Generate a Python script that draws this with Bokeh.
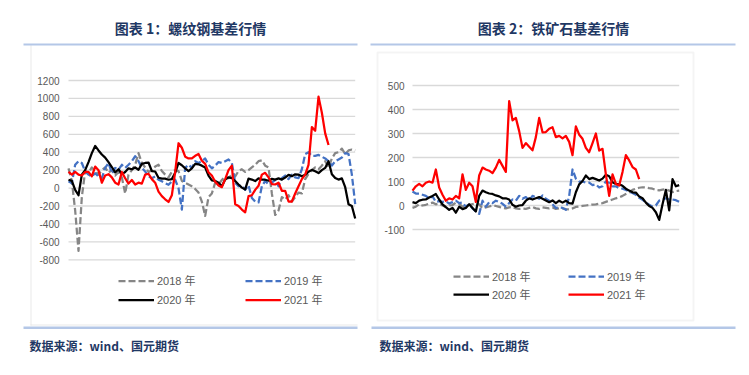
from bokeh.plotting import figure
from bokeh.models import Range1d, Label, BoxAnnotation, Legend, LegendItem, ColumnDataSource
from bokeh.embed import file_html
from bokeh.resources import INLINE
from bokeh.core.properties import value

# ---------------- data ----------------
years = ["2018 年", "2019 年", "2020 年", "2021 年"]

# rebar basis (sampled ~every 4 days through the year)
rb_2018 = [220, 80, -250, -700, -100, 190, 170, 230, 190, 150, 200, 230, 170, 200, 140, 180, 120, -60, 150, 200,
           260, 390, 280, 230, 180, 200, 240, 260, 190, 150, 120, 180, 200, 190, 80, 60, 40, 20, -10, -50,
           -150, -310, -100, -60, 60, 40, 90, 130, 110, 150, 130, 190, 210, 180, 200, 230, 260, 300, 310, 250,
           230, -60, -300, -250, -100, -130, -80, -150, -100, -50, -60, 100, 160, 200, 230, 210, 250, 300, 230, 330,
           390, 400, 440, 380, 420, 430, 420]
rb_2019 = [75, 55, 260, 300, 280, 185, 150, 130, 165, 130, 110, 225, 280, 165, 225, 205, 260, 225, 260, 300,
           355, 300, 225, 185, 130, 110, 130, 93, 75, 55, 37, 75, 93, 0, -240, 225, 260, 225, 300, 280,
           300, 330, 260, 220, 250, 290, 280, 300, 320, 280, 60, 20, 30, -20, 30, -110, -150, -160, 20, 80,
           40, 60, 90, 20, 110, 140, 100, 150, 120, 110, 210, 380, 400, 360, 360, 370, 350, 330, 300, 250,
           300, 320, 340, 390, 380, 150, -180]
rb_2020 = [93, 80, -20, -80, 150, 200, 290, 390, 470, 420, 375, 340, 290, 235, 175, 210, 155, 180, 220, 210,
           230, 205, 270, 280, 285, 190, 185, 115, 105, 105, 93, 100, 170, 280, 255, 220, 190, 220, 270, 265,
           250, 230, 140, 85, 80, 60, 20, 95, 120, 112, 78, 40, 5, -15, 105, 95, 78, 108, 95, 93,
           82, 103, 95, 108, 95, 118, 148, 133, 153, 150, 132, 148, 183, 203, 187, 167, 200, 225, 300, 155,
           112, 95, 108, 10, -180, -200, -340]
rb_2021 = [180, 150, 180, 150, 140, 180, 180, 130, 240, 200, 60, 140, 155, 120, 60, 40, 180, 110, 50, 90,
           40, 60, 50, 150, 160, 100, 60, -40, -90, -125, -155, -80, 180, 500, 450, 350, 330, 330, 360, 380,
           305, 270, 175, 140, 70, 30, 10, 100, 200, 250, -180, -200, -240, -270, -90, -80, -20, 25, 150, 170,
           120, 45, 40, 60, -30, -30, -150, -150, -60, 20, 100, 150, 260, 680, 640, 1020, 840, 610, 480]

# iron ore basis
io_2018 = [-10, -5, 5, 0, 3, 8, 12, 5, 8, 0, -6, 0, 2, 12, 8, -5, -3, 2, 6, 8,
           5, -12, -8, -4, 0, -2, -6, -10, -12, -8, -6, -12, -14, -13, -14, -10, -6, -12, -14, -8,
           -10, -12, -8, -14, -12, -12, -15, -16, -12, -6, -4, -2, 0, 2, 4, 5, 8, 10, 15, 20,
           25, 30, 34, 40, 48, 55, 65, 70, 74, 76, 75, 72, 70, 65, 63, 66, 68, 62, 56, 60, 62]
io_2019 = [58, 50, 50, 45, 40, 30, 38, 15, 18, 15, 18, 8, 14, 20, 10, 12, -5, 5, -12, -25,
           -35, 20, -5, 14, 10, 20, 14, 7, -5, 10, 25, 20, 40, 28, 35, 20, 40, 35, 28, 42,
           28, 20, 5, -10, -8, -10, -18, 40, 150, 112, 100, 100, 95, 95, 85, 88, 75, 80, 100, 95,
           80, 80, 72, 70, 65, 58, 52, 45, 32, 24, 12, 3, -5, 0, 20, 24, 30, 25, 25, 22, 15]
io_2020 = [14, 10, 20, 24, 25, 33, 40, 48, 25, 5, -7, -18, -10, -30, -5, -15, -10, 5, -10, -25,
           40, 62, 55, 50, 48, 42, 38, 30, 30, 25, 3, -5, 0, 2, 20, 30, 25, 30, 35, 28,
           21, 14, 21, 10, 20, 12, 20, 10, 8, 55, 88, 102, 125, 110, 115, 110, 104, 112, 128, 122,
           97, 90, 88, 82, 70, 62, 55, 54, 37, 30, 12, -2, -10, -28, -60, 5, 65, -20, 110, 80, 85]
io_2021 = [62, 80, 90, 80, 95, 100, 95, 150, 75, 45, 20, 30, 25, 40, 30, 130, 65, 95, 80, 15,
           125, 158, 150, 145, 135, 158, 190, 165, 140, 435, 355, 365, 310, 240, 260, 245, 230, 285, 365, 305,
           306, 320, 326, 285, 290, 280, 290, 265, 210, 330, 295, 278, 240, 222, 260, 300, 229, 236, 130, 40,
           130, 90, 83, 140, 210, 188, 160, 150, 110]

rb_ticks = [-800, -600, -400, -200, 0, 200, 400, 600, 800, 1000, 1200]
io_ticks = [-100, 0, 100, 200, 300, 400, 500]

titles = ["图表 1：螺纹钢基差行情", "图表 2：铁矿石基差行情"]
source_text = "数据来源：wind、国元期货"

colors = ["#868686", "#4472c4", "#000000", "#ff0000"]
dashes = ["7 3", "7 3", "solid", "solid"]

NAVY = "#1f3864"
RULE = "#4472c4"
TXT = "#595959"
CJK = "Noto Sans CJK SC"
NUM = "Liberation Sans"

W, H = 741, 370   # canvas; the frame fills all of it


def fit_range(d0, p0, d1, p1, size):
    """Range whose scale puts data value d0 at canvas pixel p0 and d1 at p1."""
    s = (p1 - p0) / (d1 - d0)
    start = d0 - p0 / s
    return Range1d(start, start + size / s)


p = figure(width=W, height=H, output_backend="svg", toolbar_location=None,
           x_range=Range1d(0, W), y_range=Range1d(0, H),
           min_border=0, min_border_left=0, min_border_right=0,
           min_border_top=0, min_border_bottom=0)
p.outline_line_color = None
p.background_fill_color = "white"
p.border_fill_color = "white"
p.axis.visible = False
p.grid.visible = False

# panel scales (pixel positions measured from canvas left / canvas bottom)
p.extra_x_ranges = {
    "rbx": fit_range(0, 68, len(rb_2018) - 1, 354.7, W),
    "iox": fit_range(0, 412, len(io_2018) - 1, 678.7, W),
}
p.extra_y_ranges = {
    "rby": fit_range(-800, 110.7, 1200, 290, H),
    "ioy": fit_range(-100, 141, 500, 285, H),
}


def panel(series, ticks, xr, yr, label_gap):
    n = len(series[0])
    # horizontal grid lines at the tick values
    p.segment(x0=[0] * len(ticks), x1=[n - 1] * len(ticks), y0=ticks, y1=ticks,
              x_range_name=xr, y_range_name=yr, line_color="#d9d9d9", line_width=1.3)
    # tick labels
    p.text(x=[-label_gap] * len(ticks), y=ticks, text=[str(t) for t in ticks],
           x_range_name=xr, y_range_name=yr, text_align="right", text_baseline="middle",
           text_font=value(NUM), text_font_size="10px", text_color=TXT)
    rs = []
    for vals, c, d in zip(series, colors, dashes):
        src = ColumnDataSource(dict(x=list(range(len(vals))), y=vals))
        r = p.line("x", "y", source=src, x_range_name=xr, y_range_name=yr,
                   line_color=c, line_width=2.25, line_dash=d, line_join="round")
        rs.append(r)
    return rs


def add_legend(rs, loc, row_h, col_label_w):
    items = [LegendItem(label=years[i], renderers=[rs[i]]) for i in range(4)]
    leg = Legend(items=items, location=loc, orientation="horizontal", ncols=2,
                 glyph_width=36, glyph_height=row_h, label_height=row_h, label_width=col_label_w,
                 label_standoff=3, spacing=0, padding=0, margin=0,
                 border_line_alpha=0, background_fill_alpha=0,
                 label_text_font=NUM + ", " + CJK, label_text_font_size="11px",
                 label_text_color=TXT)
    p.add_layout(leg)


def box(l, r, t, b, **kw):
    p.add_layout(BoxAnnotation(left=l, right=r, top=t, bottom=b,
                               left_units="screen", right_units="screen",
                               top_units="screen", bottom_units="screen", **kw))


def text(x, y, s, size, align="left"):
    p.add_layout(Label(x=x, y=y, x_units="screen", y_units="screen", text=s,
                       text_font=CJK, text_font_style="bold", text_font_size=size,
                       text_color=NAVY, text_align=align, text_baseline="middle"))


# decorations: chart frames and blue rules
box(29.5, 31.5, 325, 45, fill_color="#e3e3e3", line_alpha=0)
box(30, 357, 46.5, 44.5, fill_color="#e3e3e3", line_alpha=0)
box(377, 693, 318, 50, fill_alpha=0, line_color="#d9d9d9", line_width=2)
box(23, 357, 327, 325, fill_color=RULE, line_alpha=0)
box(370, 735, 327, 325, fill_color=RULE, line_alpha=0)
box(23, 357, 44, 41.5, fill_color=RULE, line_alpha=0)
box(371, 735, 44, 41.5, fill_color=RULE, line_alpha=0)

r1 = panel([rb_2018, rb_2019, rb_2020, rb_2021], rb_ticks, "rbx", "rby", 2.7)
r2 = panel([io_2018, io_2019, io_2020, io_2021], io_ticks, "iox", "ioy", 2.4)
add_legend(r1, (118, 61.5), 19, 88)
add_legend(r2, (453, 67), 18, 76)

text(190, 343, titles[0], "14px", "center")
text(553, 343, titles[1], "14px", "center")
text(29, 25, source_text, "12px")
text(379, 25, source_text, "12px")

open("out.html", "w").write(file_html(p, INLINE))
